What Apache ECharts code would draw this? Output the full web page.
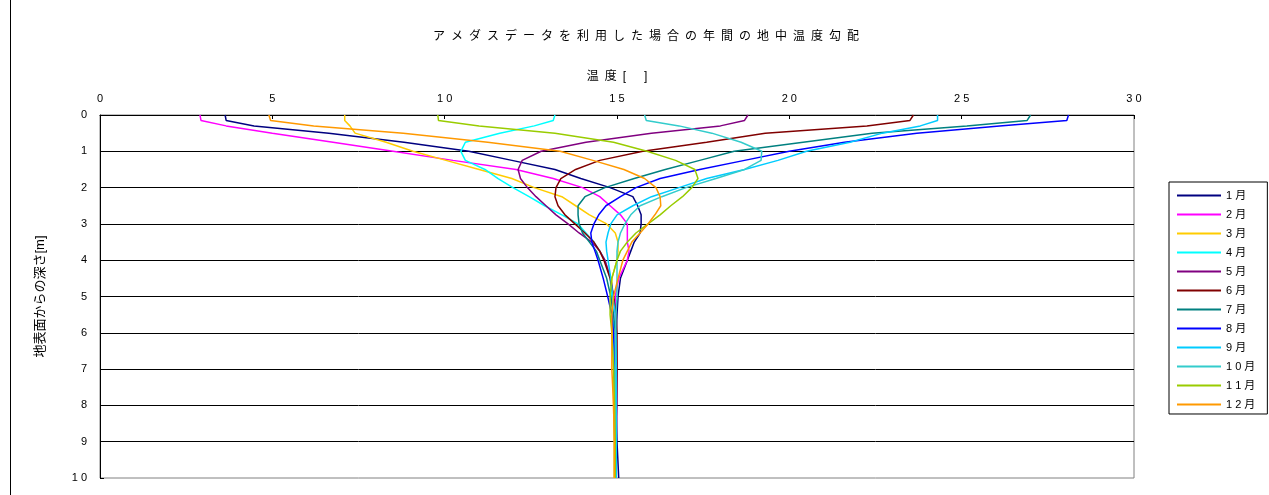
<!DOCTYPE html>
<html>
<head>
<meta charset="utf-8">
<script src="https://cdn.jsdelivr.net/npm/echarts@6.0.0/dist/echarts.min.js"></script>
<style>
  html, body { margin: 0; padding: 0; background: #fff; }
  #chart { width: 1269px; height: 495px; }
</style>
</head>
<body>
<div id="chart"></div>
<script>
// 深さ[m]
const depths = [0, 0.15, 0.3, 0.5, 0.75, 1, 1.25, 1.5, 1.75, 2, 2.25, 2.5, 2.75, 3, 3.25, 3.5, 3.75, 4, 4.5, 5, 5.5, 6, 7, 8, 9, 10]

// 月別の地中温度[℃] (depthsと同じ順番)
const jan = [3.63, 3.66, 4.47, 6.64, 8.82, 10.7, 11.95, 13.2, 13.95, 14.8, 15.46, 15.6, 15.7, 15.7, 15.67, 15.5, 15.4, 15.3, 15.1, 15.03, 15.0, 14.98, 14.97, 14.97, 15.0, 15.05]
const feb = [2.9, 2.93, 3.66, 5.0, 6.76, 8.5, 10.24, 12.07, 13.15, 14.0, 14.5, 14.8, 15.1, 15.3, 15.3, 15.3, 15.35, 15.3, 15.05, 14.95, 14.95, 14.95, 14.95, 14.95, 14.95, 14.95]
const mar = [7.1, 7.1, 7.25, 7.4, 8.3, 9.08, 10.04, 11.0, 11.95, 12.6, 13.4, 13.8, 14.2, 14.7, 14.95, 15.03, 15.03, 15.0, 14.85, 14.85, 14.85, 14.88, 14.9, 14.9, 14.92, 14.92]
const apr = [13.2, 13.15, 12.6, 11.6, 10.6, 10.47, 10.6, 11.17, 11.55, 11.98, 12.45, 12.9, 13.4, 13.87, 14.1, 14.33, 14.5, 14.65, 14.8, 14.85, 14.88, 14.9, 14.92, 14.93, 14.93, 14.93]
const may = [18.8, 18.7, 18.0, 16.0, 14.1, 12.8, 12.25, 12.13, 12.2, 12.4, 12.65, 12.94, 13.23, 13.58, 13.9, 14.27, 14.5, 14.65, 14.82, 14.9, 14.97, 14.98, 15.0, 15.0, 14.98, 14.98]
const jun = [23.6, 23.5, 22.25, 19.3, 17.6, 15.75, 14.5, 13.8, 13.37, 13.23, 13.2, 13.29, 13.49, 13.78, 14.07, 14.33, 14.5, 14.62, 14.8, 14.9, 14.97, 15.0, 15.0, 14.98, 14.97, 14.97]
const jul = [27.0, 26.9, 25.15, 22.4, 20.4, 18.4, 17.4, 16.4, 15.5, 14.65, 14.07, 13.87, 13.87, 13.9, 14.0, 14.2, 14.4, 14.5, 14.7, 14.82, 14.9, 14.95, 14.97, 14.97, 14.97, 14.97]
const aug = [28.1, 28.05, 26.1, 23.7, 21.6, 20.0, 18.7, 17.4, 16.25, 15.55, 15.1, 14.68, 14.47, 14.33, 14.24, 14.27, 14.36, 14.45, 14.6, 14.73, 14.85, 14.9, 14.95, 14.95, 14.95, 14.95]
const sep = [24.3, 24.3, 23.8, 22.7, 21.76, 20.5, 19.67, 18.7, 17.6, 16.8, 16.0, 15.46, 15.0, 14.82, 14.74, 14.68, 14.7, 14.74, 14.82, 14.88, 14.95, 14.97, 14.98, 14.98, 14.98, 14.98]
const oct = [15.8, 15.85, 16.8, 17.75, 18.6, 19.2, 19.18, 18.7, 17.87, 17.0, 16.3, 15.67, 15.4, 15.23, 15.1, 15.03, 15.0, 15.0, 15.0, 15.0, 14.97, 14.95, 14.95, 14.95, 14.95, 14.95]
const nov = [9.8, 9.82, 11.0, 13.2, 14.9, 15.87, 16.7, 17.26, 17.35, 17.17, 16.9, 16.56, 16.25, 15.9, 15.55, 15.3, 15.1, 15.0, 14.85, 14.8, 14.8, 14.85, 14.9, 14.93, 14.95, 14.95]
const dec = [4.9, 4.95, 6.2, 8.8, 11.25, 13.35, 14.3, 15.2, 15.8, 16.13, 16.25, 16.27, 16.1, 15.9, 15.67, 15.43, 15.3, 15.17, 15.03, 14.9, 14.85, 14.85, 14.85, 14.9, 14.92, 14.92]

const months = ['1月', '2月', '3月', '4月', '5月', '6月', '7月', '8月', '9月', '10月', '11月', '12月']
const monthData = [jan, feb, mar, apr, may, jun, jul, aug, sep, oct, nov, dec]

const xTicks = [0, 5, 10, 15, 20, 25, 30]
const yTicks = [0, 1, 2, 3, 4, 5, 6, 7, 8, 9, 10]

const colors = ['#000080', '#ff00ff', '#ffcc00', '#00ffff', '#800080', '#800000', '#008080', '#0000ff', '#00ccff', '#33cccc', '#99cc00', '#ff9900']
const font = '"Liberation Sans", "Noto Sans CJK JP", sans-serif'

// 文字の間隔を空ける
const spaced = s => String(s).split('').join(' ')

const chart = echarts.init(document.getElementById('chart'))

const option = {
	animation: false,
	color: colors,
	textStyle: { fontFamily: font },
	title: {
		text: 'アメダスデータを利用した場合の年間の地中温度勾配'.split('').join('\u2002'),
		left: 641,
		top: 26,
		textAlign: 'center',
		textStyle: { fontSize: 12, fontWeight: 'normal', color: '#000', fontFamily: font }
	},
	graphic: [
		{
			// 外枠
			type: 'rect',
			shape: { x: 10.5, y: -10, width: 1300, height: 520 },
			style: { fill: 'none', stroke: '#000', lineWidth: 1 },
			silent: true
		}
	],
	legend: {
		orient: 'vertical',
		left: 1169,
		top: 182,
		itemWidth: 44,
		itemHeight: 12,
		itemGap: 8,
		padding: [8, 12, 4, 7],
		borderColor: '#000',
		borderWidth: 1,
		itemStyle: { opacity: 0, borderWidth: 0 },
		formatter: name => spaced(name),
		textStyle: { fontSize: 11, color: '#000', fontFamily: font },
		data: months
	},
	grid: {
		left: 100,
		top: 115,
		right: 135,
		bottom: 17,
		show: true,
		borderColor: '#808080',
		borderWidth: 1,
		outerBoundsMode: 'none'
	},
	xAxis: {
		type: 'value',
		position: 'top',
		min: xTicks[0],
		max: xTicks[xTicks.length - 1],
		interval: 5,
		name: '温\u2002度\u2002[\u2003\u2002]',
		nameLocation: 'middle',
		nameGap: 32,
		nameTextStyle: { fontSize: 12, color: '#000', fontFamily: font },
		axisLine: { lineStyle: { color: '#000', width: 1 } },
		axisTick: { inside: true, length: 4, lineStyle: { color: '#000' } },
		axisLabel: { margin: 11, fontSize: 11, color: '#000', formatter: v => spaced(v) },
		splitLine: { show: false }
	},
	yAxis: {
		type: 'value',
		inverse: true,
		min: yTicks[0],
		max: yTicks[yTicks.length - 1],
		interval: 1,
		name: '地表面からの深さ[m]',
		nameLocation: 'middle',
		nameRotate: 90,
		nameGap: 53,
		nameTextStyle: { fontSize: 13, color: '#000', fontFamily: font },
		axisLine: { lineStyle: { color: '#000', width: 1 } },
		axisTick: { inside: true, length: 4, lineStyle: { color: '#000' } },
		axisLabel: { margin: 13, fontSize: 11, color: '#000', formatter: v => spaced(v) },
		splitLine: { show: true, showMinLine: false, showMaxLine: false, lineStyle: { color: '#000', width: 1 } }
	},
	series: months.map((m, i) => ({
		name: m,
		type: 'line',
		symbol: 'none',
		lineStyle: { width: 1.5 },
		data: depths.map((d, k) => [monthData[i][k], d])
	}))
}

chart.setOption(option)
</script>
</body>
</html>
